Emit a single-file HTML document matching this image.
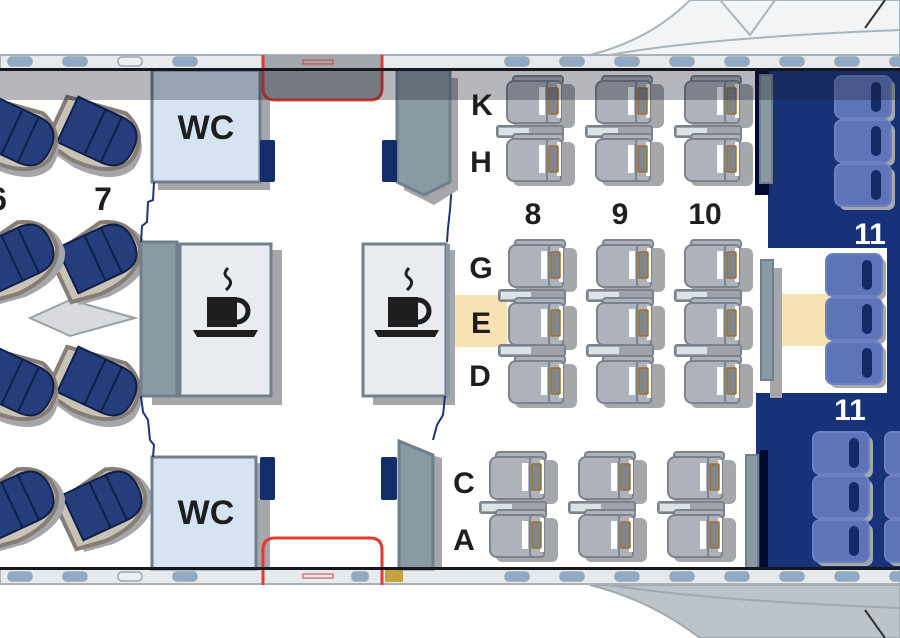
<!DOCTYPE html>
<html><head><meta charset="utf-8"><style>
html,body{margin:0;padding:0;background:#fff;width:900px;height:638px;overflow:hidden}
svg{display:block}
text{font-family:"Liberation Sans",Arial,sans-serif;font-weight:bold}
</style></head><body>
<svg width="900" height="638" viewBox="0 0 900 638" xmlns="http://www.w3.org/2000/svg">
<defs>
<g id="seat">
  <rect x="8" y="8" width="62" height="44" rx="6" fill="#a6a7ab"/>
  <rect x="8" y="0" width="50" height="8" rx="3" fill="#aeb3bb" stroke="#7c838d" stroke-width="2"/>
  <rect x="2" y="5" width="52" height="42" rx="7" fill="#aeb3bb" stroke="#7c838d" stroke-width="2"/>
  <rect x="42" y="5" width="14" height="42" rx="3" fill="#aeb3bb" stroke="#7c838d" stroke-width="2"/>
  <rect x="34" y="11" width="6" height="28" fill="#fff"/>
  <rect x="52" y="8" width="4" height="34" fill="#fff"/>
  <rect x="44" y="12" width="9" height="26" rx="1" fill="#80858e" stroke="#a0702a" stroke-width="1.5"/>
</g>
<g id="pair">
  <use href="#seat" x="0" y="0"/>
  <rect x="-8" y="50" width="66" height="11" rx="2" fill="#9fa4ac" stroke="#7c838d" stroke-width="2"/>
  <rect x="-6" y="52" width="30" height="7" fill="#dce3e6"/>
  <use href="#seat" x="0" y="58"/>
</g>
<g id="blue">
  <path d="M-40,-20 L20,-30 Q50,-20 45,10 Q35,35 -10,35 L-40,30 Z" fill="#a5a6aa" transform="translate(6,6)"/>
  <path d="M-40,-20 L20,-30 Q50,-20 45,10 Q35,35 -10,35 L-40,30 Z" fill="#c9c3b5" stroke="#857d76" stroke-width="4"/>
  <path d="M-30,-25 L18,-25 Q42,-25 42,0 Q42,25 18,25 L-30,25 Z" fill="#263d7c" stroke="#0f1f4a" stroke-width="2"/>
  <line x1="0" y1="-25" x2="0" y2="25" stroke="#0f1f4a" stroke-width="2"/>
  <line x1="18" y1="-25" x2="18" y2="25" stroke="#0f1f4a" stroke-width="2"/>
</g>
<g id="nseat">
  <rect x="4" y="4" width="56" height="42" rx="7" fill="#a6a7ab"/>
  <rect x="0" y="0" width="56" height="42" rx="7" fill="#5f74b8" stroke="#6c80c4" stroke-width="2"/>
  <rect x="36" y="6" width="10" height="30" rx="5" fill="#122a66"/>
</g>
</defs>

<!-- wings -->
<path d="M590,55 Q650,40 690,0 L900,0 L900,55 Z" fill="#f2f4f6" stroke="#a9b4bb" stroke-width="2"/>
<path d="M610,55 Q700,38 900,30" fill="none" stroke="#a9b4bb" stroke-width="2"/>
<path d="M720,0 L750,35 L775,0" fill="none" stroke="#a9b4bb" stroke-width="2"/>
<line x1="865" y1="28" x2="885" y2="0" stroke="#333" stroke-width="2"/>
<path d="M590,585 Q650,600 700,638 L900,638 L900,585 Z" fill="#bcc3c9" stroke="#a0aab1" stroke-width="2"/>
<path d="M610,585 Q700,600 900,608" fill="none" stroke="#a0aab1" stroke-width="2"/>
<line x1="865" y1="610" x2="885" y2="638" stroke="#333" stroke-width="2"/>

<!-- fuselage wall strips -->
<rect x="0" y="55" width="900" height="14" fill="#e6eaed" stroke="#a9b2b8" stroke-width="2"/>
<rect x="0" y="569" width="900" height="15" fill="#e6eaed" stroke="#a9b2b8" stroke-width="2"/>
<g fill="#8eaac6" stroke="#9aa7b0" stroke-width="1.5">
  <rect x="8" y="57" width="24" height="9" rx="4"/><rect x="63" y="57" width="24" height="9" rx="4"/>
  <rect x="118" y="57" width="24" height="9" rx="4" fill="#eef1f3"/><rect x="173" y="57" width="24" height="9" rx="4"/>
  <rect x="352" y="57" width="16" height="9" rx="3"/>
  <rect x="505" y="57" width="24" height="9" rx="4"/><rect x="560" y="57" width="24" height="9" rx="4"/>
  <rect x="615" y="57" width="24" height="9" rx="4"/><rect x="670" y="57" width="24" height="9" rx="4"/>
  <rect x="725" y="57" width="24" height="9" rx="4"/><rect x="780" y="57" width="24" height="9" rx="4"/>
  <rect x="835" y="57" width="24" height="9" rx="4"/><rect x="890" y="57" width="24" height="9" rx="4"/>
  <rect x="8" y="572" width="24" height="9" rx="4"/><rect x="63" y="572" width="24" height="9" rx="4"/>
  <rect x="118" y="572" width="24" height="9" rx="4" fill="#eef1f3"/><rect x="173" y="572" width="24" height="9" rx="4"/>
  <rect x="352" y="572" width="16" height="9" rx="3"/>
  <rect x="505" y="572" width="24" height="9" rx="4"/><rect x="560" y="572" width="24" height="9" rx="4"/>
  <rect x="615" y="572" width="24" height="9" rx="4"/><rect x="670" y="572" width="24" height="9" rx="4"/>
  <rect x="725" y="572" width="24" height="9" rx="4"/><rect x="780" y="572" width="24" height="9" rx="4"/>
  <rect x="835" y="572" width="24" height="9" rx="4"/><rect x="890" y="572" width="24" height="9" rx="4"/>
</g>
<rect x="385" y="570" width="18" height="12" fill="#c8a040"/>

<!-- right navy areas -->
<rect x="768" y="70" width="132" height="178" fill="#18327a"/>
<rect x="756" y="393" width="144" height="176" fill="#18327a"/>
<rect x="887" y="248" width="13" height="146" fill="#18327a"/>
<rect x="755" y="70" width="14" height="125" fill="#000a30"/>
<rect x="760" y="450" width="8" height="119" fill="#000a30"/>

<!-- yellow E bands -->
<rect x="455" y="295" width="52" height="52" fill="#f8e2b4"/>
<rect x="780" y="294" width="50" height="52" fill="#f8e2b4"/>

<!-- left blue seats -->
<path d="M30,318 L70,300 L135,318 L70,336 Z" fill="#d8dadd" stroke="#9aa0a8" stroke-width="2"/>
<g transform="translate(95,132) rotate(25)"><use href="#blue"/></g>
<g transform="translate(12,132) rotate(25)"><use href="#blue"/></g>
<g transform="translate(95,258) rotate(-25)"><use href="#blue"/></g>
<g transform="translate(12,258) rotate(-25)"><use href="#blue"/></g>
<g transform="translate(95,382) rotate(25)"><use href="#blue"/></g>
<g transform="translate(12,382) rotate(25)"><use href="#blue"/></g>
<g transform="translate(100,505) rotate(-25)"><use href="#blue"/></g>
<g transform="translate(12,505) rotate(-25)"><use href="#blue"/></g>
<text x="103" y="210" font-size="32" fill="#1e1e1e" text-anchor="middle">7</text>
<text x="-2" y="210" font-size="32" fill="#1e1e1e" text-anchor="middle">6</text>

<!-- WC boxes -->
<rect x="158" y="78" width="112" height="112" fill="#a6a7ab"/>
<rect x="152" y="70" width="108" height="112" fill="#d6e3f2" stroke="#6f808c" stroke-width="3"/>
<text x="206" y="139" font-size="34" fill="#1e1e1e" text-anchor="middle">WC</text>
<rect x="260" y="140" width="15" height="42" rx="2" fill="#132d68"/>
<rect x="158" y="463" width="112" height="106" fill="#a6a7ab"/>
<rect x="152" y="457" width="104" height="112" fill="#d6e3f2" stroke="#6f808c" stroke-width="3"/>
<text x="206" y="524" font-size="34" fill="#1e1e1e" text-anchor="middle">WC</text>
<rect x="260" y="457" width="15" height="43" rx="2" fill="#132d68"/>

<!-- galleys -->
<rect x="152" y="250" width="130" height="155" fill="#a6a7ab"/>
<rect x="141" y="242" width="36" height="154" fill="#8a9aa4" stroke="#6f808c" stroke-width="3"/>
<rect x="180" y="244" width="91" height="152" fill="#e8ecf0" stroke="#6f808c" stroke-width="3"/>
<rect x="373" y="250" width="82" height="155" fill="#a6a7ab"/>
<rect x="363" y="244" width="83" height="152" fill="#e8ecf0" stroke="#6f808c" stroke-width="3"/>
<rect x="446" y="244" width="4" height="152" fill="#8a9aa4"/>
<g id="cup" fill="#1e1e1e">
  <path d="M228,268 q-6,6 0,10 q6,5 -2,12" stroke="#1e1e1e" stroke-width="3" fill="none"/>
  <rect x="207" y="297" width="30" height="30"/>
  <path d="M237,300 a11,11 0 0 1 0,22" stroke="#1e1e1e" stroke-width="5" fill="none"/>
  <path d="M193,330 L258,330 L254,337 L197,337 Z"/>
</g>
<use href="#cup" x="181" y="0"/>

<!-- zigzag curtains -->
<path d="M154,182 L153,200 L148,202 L147,222 L142,226 L141,242" fill="none" stroke="#1c3576" stroke-width="2"/>
<path d="M141,396 L143,412 L148,420 L150,440 L154,445 L153,457" fill="none" stroke="#1c3576" stroke-width="2"/>
<path d="M452,182 L450,210 L448,228 L447,242" fill="none" stroke="#1c3576" stroke-width="2"/>
<path d="M445,396 L443,415 L437,425 L433,440" fill="none" stroke="#1c3576" stroke-width="2"/>

<!-- door areas -->
<path d="M263,55 L263,88 Q263,100 275,100 L370,100 Q382,100 382,88 L382,55" fill="#a3a6ab" stroke="#e03a33" stroke-width="3"/>
<path d="M263,585 L263,550 Q263,538 275,538 L370,538 Q382,538 382,550 L382,585" fill="none" stroke="#e03a33" stroke-width="3"/>
<rect x="303" y="60" width="30" height="4" fill="none" stroke="#d04040" stroke-width="1"/>
<rect x="303" y="574" width="30" height="4" fill="none" stroke="#d04040" stroke-width="1"/>

<!-- partitions -->
<path d="M404,78 L458,78 L458,190 L434,205 L404,190 Z" fill="#a6a7ab"/>
<path d="M397,70 L450,70 L450,182 L424,195 L397,182 Z" fill="#8a9aa4" stroke="#6f808c" stroke-width="3"/>
<rect x="382" y="140" width="15" height="42" rx="2" fill="#132d68"/>
<path d="M405,448 L442,458 L442,569 L405,569 Z" fill="#a6a7ab"/>
<path d="M399,441 L433,455 L433,569 L399,569 Z" fill="#8a9aa4" stroke="#6f808c" stroke-width="3"/>
<rect x="381" y="457" width="16" height="43" rx="2" fill="#132d68"/>
<rect x="760" y="75" width="12" height="108" fill="#8a9aa4" stroke="#6f808c" stroke-width="2"/>
<rect x="770" y="268" width="12" height="130" fill="#a6a7ab"/>
<rect x="761" y="260" width="12" height="120" fill="#8a9aa4" stroke="#6f808c" stroke-width="2"/>
<rect x="746" y="455" width="12" height="114" fill="#8a9aa4" stroke="#6f808c" stroke-width="2"/>

<!-- business seats -->
<use href="#pair" x="505" y="76"/>
<use href="#pair" x="594" y="76"/>
<use href="#pair" x="683" y="76"/>
<use href="#pair" x="507" y="240"/>
<use href="#seat" x="507" y="356"/>
<rect x="499" y="345" width="66" height="11" rx="2" fill="#9fa4ac" stroke="#7c838d" stroke-width="2"/>
<rect x="501" y="347" width="30" height="7" fill="#dce3e6"/>
<use href="#pair" x="595" y="240"/>
<use href="#seat" x="595" y="356"/>
<rect x="587" y="345" width="66" height="11" rx="2" fill="#9fa4ac" stroke="#7c838d" stroke-width="2"/>
<rect x="589" y="347" width="30" height="7" fill="#dce3e6"/>
<use href="#pair" x="683" y="240"/>
<use href="#seat" x="683" y="356"/>
<rect x="675" y="345" width="66" height="11" rx="2" fill="#9fa4ac" stroke="#7c838d" stroke-width="2"/>
<rect x="677" y="347" width="30" height="7" fill="#dce3e6"/>
<use href="#pair" x="488" y="452"/>
<use href="#pair" x="577" y="452"/>
<use href="#pair" x="666" y="452"/>

<!-- right navy seats -->
<use href="#nseat" x="835" y="76"/>
<use href="#nseat" x="835" y="120"/>
<use href="#nseat" x="835" y="164"/>
<use href="#nseat" x="826" y="254"/>
<use href="#nseat" x="826" y="298"/>
<use href="#nseat" x="826" y="342"/>
<use href="#nseat" x="813" y="432"/>
<use href="#nseat" x="813" y="476"/>
<use href="#nseat" x="813" y="520"/>
<use href="#nseat" x="885" y="432"/>
<use href="#nseat" x="885" y="476"/>
<use href="#nseat" x="885" y="520"/>

<!-- dark top overlay band -->
<rect x="0" y="70" width="900" height="30" fill="#1a2030" fill-opacity="0.32"/>
<rect x="0" y="68" width="900" height="3" fill="#15191f"/>
<rect x="0" y="567" width="900" height="3" fill="#15191f"/>

<!-- labels -->
<g font-size="30" fill="#1e1e1e" text-anchor="middle">
<text x="482" y="115">K</text>
<text x="481" y="172">H</text>
<text x="533" y="224">8</text>
<text x="620" y="224">9</text>
<text x="705" y="224">10</text>
<text x="481" y="278">G</text>
<text x="481" y="333">E</text>
<text x="480" y="386">D</text>
<text x="464" y="493">C</text>
<text x="464" y="550">A</text>
</g>
<text x="870" y="244" font-size="30" fill="#fff" text-anchor="middle">11</text>
<text x="850" y="420" font-size="30" fill="#fff" text-anchor="middle">11</text>
</svg>
</body></html>
